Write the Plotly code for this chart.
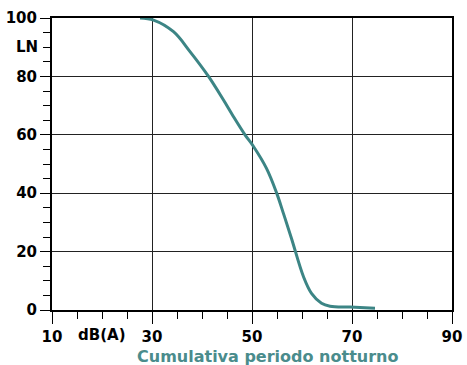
import plotly.graph_objects as go

# Data
level_db = [27.6, 30.3, 34.3, 37.6, 41.3, 44.3, 46.3, 48.6, 50.3, 52.9, 54.9, 56.3, 57.9, 60.3, 61.9, 63.9, 65.6, 69.6, 74.6]
percent_ln = [100, 99.3, 95.3, 88.5, 80, 71.9, 66.2, 60, 56, 48.5, 40.2, 33, 24.5, 11.4, 5.7, 2.3, 1.3, 1.0, 0.6]

x_tickvals = [10, 30, 50, 70, 90]
x_ticktext = ["10", "30", "50", "70", "90"]
y_tickvals = [0, 20, 40, 60, 80, 100]
y_ticktext = ["0", "20", "40", "60", "80", "100"]
x_unit_label = "dB(A)"
y_unit_label = "LN"
x_title = "Cumulativa periodo notturno"

FONT = "Verdana, DejaVu Sans, sans-serif"
LINE_COLOR = "#3c8585"
TITLE_COLOR = "#4a8c8c"

fig = go.Figure()
fig.add_trace(go.Scatter(
    x=level_db, y=percent_ln, mode="lines",
    line=dict(color=LINE_COLOR, width=3, shape="spline", smoothing=1.0),
    hoverinfo="skip", showlegend=False,
))

fig.update_layout(
    width=467, height=365,
    margin=dict(l=52, r=15, t=18, b=55, autoexpand=False),
    paper_bgcolor="white", plot_bgcolor="white",
    font=dict(family=FONT, size=15, color="black", weight="bold"),
    showlegend=False,
)

fig.update_xaxes(
    range=[10, 90], tickmode="array", tickvals=x_tickvals, ticktext=x_ticktext,
    ticks="outside", ticklen=12, tickwidth=1, tickcolor="black",
    showline=True, linecolor="black", linewidth=2, mirror=True,
    showgrid=True, gridcolor="#222222", gridwidth=1, zeroline=False,
    minor=dict(dtick=5, tick0=0, ticks="outside", ticklen=7, tickwidth=1,
               tickcolor="black", showgrid=False),
    tickfont=dict(family=FONT, size=15, color="black", weight="bold"),
    automargin=False, fixedrange=True,
)
fig.update_yaxes(
    range=[0, 100], tickmode="array", tickvals=y_tickvals, ticktext=y_ticktext,
    ticks="outside", ticklen=10, tickwidth=1, tickcolor="black",
    showline=True, linecolor="black", linewidth=2, mirror=True,
    showgrid=True, gridcolor="#222222", gridwidth=1, zeroline=False,
    minor=dict(dtick=5, tick0=0, ticks="outside", ticklen=7, tickwidth=1,
               tickcolor="black", showgrid=False),
    tickfont=dict(family=FONT, size=15, color="black", weight="bold"),
    automargin=False, fixedrange=True,
)

fig.add_annotation(
    x=20, xref="x", y=0, yref="paper", yanchor="top", yshift=-14,
    text=x_unit_label, showarrow=False,
    font=dict(family=FONT, size=15, color="black", weight="bold"),
)
fig.add_annotation(
    x=0, xref="paper", y=90, yref="y", xanchor="right", xshift=-12,
    text=y_unit_label, showarrow=False,
    font=dict(family=FONT, size=15, color="black", weight="bold"),
)
fig.add_annotation(
    x=0.5375, xref="paper", y=0, yref="paper", yanchor="middle", yshift=-46,
    text=x_title, showarrow=False,
    font=dict(family=FONT, size=16, color=TITLE_COLOR, weight="bold"),
)

fig.write_html(
    "out.html",
    config={"displayModeBar": False},
    post_script="document.body.style.margin='0';document.body.style.overflow='hidden';",
)
